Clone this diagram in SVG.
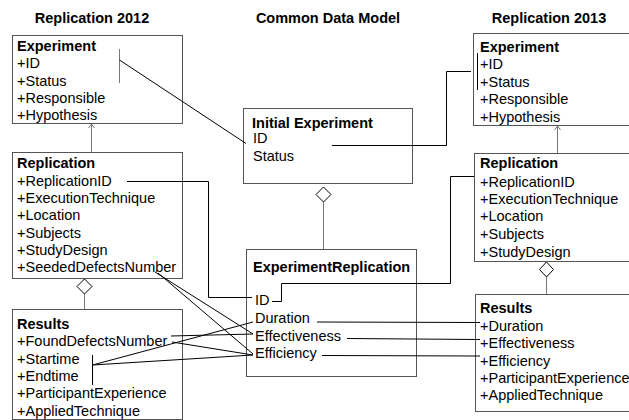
<svg xmlns="http://www.w3.org/2000/svg" width="629" height="420" viewBox="0 0 629 420">
<style>
  text { font-family: "Liberation Sans", Arial, sans-serif; font-size: 14.5px; fill: #000; }
  .t { font-weight: bold; }
  .h { font-weight: bold; text-anchor: middle; }
  .box { fill: #fff; stroke: #555; stroke-width: 1; }
  .c { fill: none; stroke: #000; stroke-width: 1; }
  .g { fill: none; stroke: #777; stroke-width: 1; }
  .d { fill: #fff; stroke: #000; stroke-width: 1; }
</style>
<rect width="629" height="420" fill="#fff"/>

<g id="headers">
  <text class="h" x="92" y="23">Replication 2012</text>
  <text class="h" x="328" y="23">Common Data Model</text>
  <text class="h" x="549" y="23">Replication 2013</text>
</g>

<g id="exp2012">
  <rect class="box" x="12.5" y="35.5" width="170" height="88"/>
  <text class="t" x="17" y="51">Experiment</text>
  <text x="17" y="68">+ID</text>
  <text x="17" y="85.5">+Status</text>
  <text x="17" y="103">+Responsible</text>
  <text x="17" y="120">+Hypothesis</text>
</g>

<g id="rep2012">
  <rect class="box" x="12.5" y="152.5" width="170" height="126"/>
  <text class="t" x="17" y="168">Replication</text>
  <text x="17" y="185.5">+ReplicationID</text>
  <text x="17" y="203">+ExecutionTechnique</text>
  <text x="17" y="220">+Location</text>
  <text x="17" y="237.5">+Subjects</text>
  <text x="17" y="255">+StudyDesign</text>
  <text x="17" y="272">+SeededDefectsNumber</text>
</g>

<g id="res2012">
  <rect class="box" x="12.5" y="309.5" width="170" height="110"/>
  <text class="t" x="17" y="329">Results</text>
  <text x="17" y="346">+FoundDefectsNumber</text>
  <text x="17" y="363.5">+Startime</text>
  <text x="17" y="381">+Endtime</text>
  <text x="17" y="398">+ParticipantExperience</text>
  <text x="17" y="415.5">+AppliedTechnique</text>
</g>

<g id="initexp">
  <rect class="box" x="243.5" y="108.5" width="169" height="75"/>
  <text class="t" x="252" y="128">Initial Experiment</text>
  <text x="253" y="143">ID</text>
  <text x="253" y="161">Status</text>
</g>

<g id="exprep">
  <rect class="box" x="246.5" y="249.5" width="170" height="127"/>
  <text class="t" x="253" y="272">ExperimentReplication</text>
  <text x="255" y="305">ID</text>
  <text x="255" y="323">Duration</text>
  <text x="255" y="341">Effectiveness</text>
  <text x="255" y="358">Efficiency</text>
</g>

<g id="exp2013">
  <rect class="box" x="473.5" y="33.5" width="170" height="92"/>
  <text class="t" x="480" y="52">Experiment</text>
  <text x="480" y="69">+ID</text>
  <text x="480" y="87">+Status</text>
  <text x="480" y="104">+Responsible</text>
  <text x="480" y="122">+Hypothesis</text>
</g>

<g id="rep2013">
  <rect class="box" x="474.5" y="153.5" width="170" height="108"/>
  <text class="t" x="480" y="168">Replication</text>
  <text x="480" y="187">+ReplicationID</text>
  <text x="480" y="204">+ExecutionTechnique</text>
  <text x="480" y="221">+Location</text>
  <text x="480" y="239">+Subjects</text>
  <text x="480" y="257">+StudyDesign</text>
</g>

<g id="res2013">
  <rect class="box" x="475.5" y="294.5" width="170" height="117"/>
  <text class="t" x="480" y="313">Results</text>
  <text x="480" y="331">+Duration</text>
  <text x="480" y="348">+Effectiveness</text>
  <text x="480" y="366">+Efficiency</text>
  <text x="480" y="383">+ParticipantExperience</text>
  <text x="480" y="400">+AppliedTechnique</text>
</g>

<g id="connectors">
  <!-- generalization arrows -->
  <path class="g" d="M91.5,152 V124 M88.5,128 L91.5,124 L94.5,128"/>
  <path class="g" d="M557.5,153 V126 M554.5,130 L557.5,126 L560.5,130"/>
  <!-- aggregation diamonds -->
  <path class="g" d="M84.5,294 V309"/>
  <path class="d" d="M84.5,279 L92,286.5 L84.5,294 L77,286.5 Z"/>
  <path class="g" d="M323.5,202 V249"/>
  <path class="d" d="M323.5,187 L331,194.5 L323.5,202 L316,194.5 Z"/>
  <path class="g" d="M546.5,277 V294"/>
  <path class="d" d="M546.5,262 L553.5,269.5 L546.5,277 L539.5,269.5 Z"/>
  <!-- ID mappings -->
  <path class="g" d="M119.5,49 V83"/>
  <path class="c" d="M119.5,60 L246,143.5"/>
  <path class="c" d="M332,145.5 H446.5 V71.5 H471"/>
  <path class="c" d="M477.5,53 V90"/>
  <path class="c" d="M127,181.5 H208.5 V297.5 H252"/>
  <path class="c" d="M272,301.5 H281.5 V283.5 H450.5 V176.5 H474"/>
  <!-- left attribute mappings -->
  <path class="c" d="M155,272 L253,334"/>
  <path class="c" d="M158,273 L253,354"/>
  <path class="c" d="M171,336 L253,334"/>
  <path class="c" d="M172,342 L253,355"/>
  <path class="c" d="M92.5,355 V385"/>
  <path class="c" d="M92.5,365 L253,322"/>
  <path class="c" d="M92.5,365 L253,355"/>
  <!-- right attribute mappings -->
  <path class="c" d="M317,322 L480,322.5"/>
  <path class="c" d="M347,338.5 L480,339.5"/>
  <path class="c" d="M322,355.5 L480,356"/>
</g>
</svg>
